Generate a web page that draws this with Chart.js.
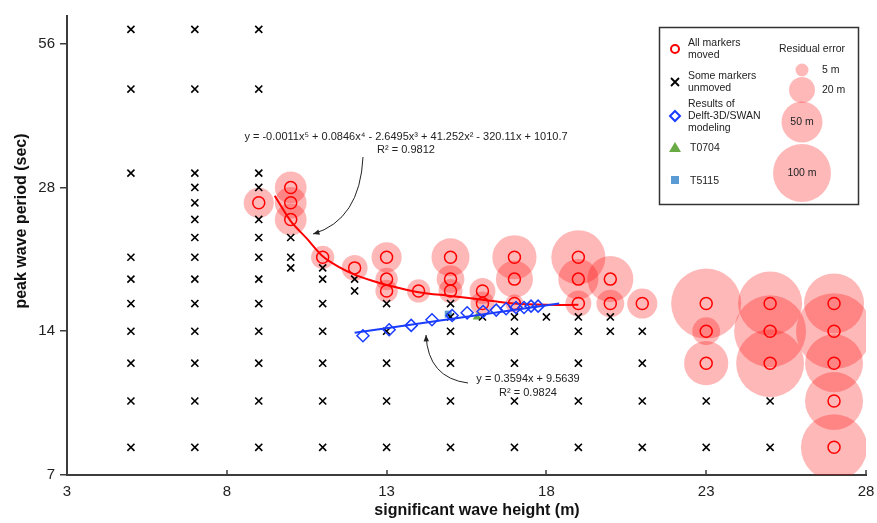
<!DOCTYPE html>
<html>
<head>
<meta charset="utf-8">
<script src="https://cdn.jsdelivr.net/npm/chart.js@4.4.0/dist/chart.umd.min.js"></script>
<style>
  html, body { margin: 0; padding: 0; background: #fff; }
  #wrap { width: 877px; height: 523px; }
</style>
</head>
<body>
<div id="wrap"><canvas id="waveChart" width="877" height="523"></canvas></div>
<script>
// Axis ticks
const xTicks = [3, 8, 13, 18, 23, 28];
const yTicks = [7, 14, 28, 56];

// All markers moved: wave height (m), period (s), residual error (m)
const movedH =   [9, 10, 10, 10, 11, 12, 13, 13, 13, 14, 15, 15, 15, 16, 16, 17, 17, 17, 19, 19, 19, 20, 20, 21, 23, 23, 23, 25, 25, 25, 27, 27, 27, 27, 27];
const movedT =   [26, 28, 26, 24, 20, 19, 20, 18, 17, 17, 20, 18, 17, 17, 16, 20, 18, 16, 20, 18, 16, 18, 16, 16, 16, 14, 12, 16, 14, 12, 16, 14, 12, 10, 8];
const movedErr = [27, 30, 30, 30, 16, 20, 27, 15, 15, 16, 43, 23, 17, 20, 17, 58, 41, 10, 87, 48, 20, 63, 23, 27, 146, 23, 58, 122, 154, 137, 107, 172, 100, 100, 130];

// Some markers unmoved: one column per wave height
const unmovedCols = [5, 7, 9, 10, 11, 12, 13, 15, 16, 17, 18, 19, 20, 21, 23, 25];
const unmovedPeriods = [
    [60, 45, 30, 20, 18, 16, 14, 12, 10, 8],
    [60, 45, 30, 28, 26, 24, 22, 20, 18, 16, 14, 12, 10, 8],
    [60, 45, 30, 28, 24, 22, 20, 18, 16, 14, 12, 10, 8],
    [22, 20, 19],
    [19, 18, 16, 14, 12, 10, 8],
    [18, 17],
    [16, 14, 12, 10, 8],
    [16, 15, 14, 12, 10, 8],
    [15],
    [15, 14, 12, 10, 8],
    [15],
    [15, 14, 12, 10, 8],
    [15, 14],
    [14, 12, 10, 8],
    [10, 8],
    [10, 8]
];

// Delft-3D/SWAN modeling results
const swanH = [12.26, 13.08, 13.77, 14.42, 15.05, 15.52, 16.02, 16.43, 16.74, 17.05, 17.3, 17.52, 17.74];
const swanT = [13.7, 14.1, 14.4, 14.8, 15.1, 15.3, 15.4, 15.5, 15.6, 15.7, 15.7, 15.8, 15.8];

// Trend lines
const polyH = [9.5, 10, 10.5, 11, 11.5, 12, 12.5, 13, 14, 15, 16, 17, 18, 19];
const polyT = [26.9, 23.8, 21.9, 20.1, 19.1, 18.4, 17.9, 17.5, 16.9, 16.6, 16.3, 16.0, 15.9, 15.9];
const linH = [12, 18.4];
const linT = [13.9, 16.0];

// Single stations
const t0704H = [15.83];
const t0704T = [15.0];
const t5115H = [14.93];
const t5115T = [15.2];

// Residual error legend sizes (m)
const legendErr = [5, 20, 50, 100];

const FONT = 'Arial, "Liberation Sans", sans-serif';
Chart.defaults.font.family = FONT;

const rFor = e => 2.9 * Math.sqrt(e);
const pts = (xs, ys) => xs.map((x, i) => ({ x: x, y: ys[i] }));

const crossPts = [];
unmovedCols.forEach((h, i) => unmovedPeriods[i].forEach(t => crossPts.push({ x: h, y: t })));

const bubblePts = movedH.map((h, i) => ({ x: h, y: movedT[i], r: rFor(movedErr[i]) }));

function curvedArrow(ctx, x0, y0, cx, cy, x1, y1) {
    ctx.beginPath(); ctx.moveTo(x0, y0); ctx.quadraticCurveTo(cx, cy, x1, y1); ctx.stroke();
    const a = Math.atan2(y1 - cy, x1 - cx);
    ctx.beginPath();
    ctx.moveTo(x1, y1);
    ctx.lineTo(x1 - 7 * Math.cos(a - 0.4), y1 - 7 * Math.sin(a - 0.4));
    ctx.lineTo(x1 - 7 * Math.cos(a + 0.4), y1 - 7 * Math.sin(a + 0.4));
    ctx.closePath(); ctx.fill();
}

const decorPlugin = {
    id: 'decor',
    afterDraw(chart) {
        const ctx = chart.ctx;
        const xs = chart.scales.x, area = chart.chartArea;
        ctx.save();

        // inward x ticks
        ctx.strokeStyle = '#3c3c3c'; ctx.lineWidth = 1.5;
        xTicks.forEach(v => {
            const px = Math.round(xs.getPixelForValue(v));
            ctx.beginPath(); ctx.moveTo(px, area.bottom); ctx.lineTo(px, area.bottom - 5); ctx.stroke();
        });

        // axis titles
        ctx.fillStyle = '#111';
        ctx.font = 'bold 16px ' + FONT;
        ctx.textAlign = 'center'; ctx.textBaseline = 'middle';
        ctx.fillText('significant wave height (m)', 477, 511);
        ctx.save();
        ctx.translate(22, 221); ctx.rotate(-Math.PI / 2);
        ctx.fillText('peak wave period (sec)', 0, 0);
        ctx.restore();

        // fit equations
        ctx.fillStyle = '#222';
        ctx.font = '11px ' + FONT;
        ctx.fillText('y = -0.0011x\u2075 + 0.0846x\u2074 - 2.6495x\u00b3 + 41.252x\u00b2 - 320.11x + 1010.7', 406, 137);
        ctx.fillText('R\u00b2 = 0.9812', 406, 150);
        ctx.fillText('y = 0.3594x + 9.5639', 528, 379);
        ctx.fillText('R\u00b2 = 0.9824', 528, 393);

        ctx.strokeStyle = '#222'; ctx.lineWidth = 1;
        curvedArrow(ctx, 363, 157, 360, 220, 313, 234);
        curvedArrow(ctx, 468, 383, 428, 378, 426, 335);

        // legend box
        ctx.strokeStyle = '#333'; ctx.lineWidth = 1.5;
        ctx.strokeRect(659.5, 27.5, 199, 177);

        const ix = 675;
        ctx.strokeStyle = '#ff0000'; ctx.lineWidth = 2;
        ctx.beginPath(); ctx.arc(ix, 49, 4, 0, Math.PI * 2); ctx.stroke();
        ctx.strokeStyle = '#000'; ctx.lineWidth = 1.8;
        ctx.beginPath(); ctx.moveTo(ix - 4, 78); ctx.lineTo(ix + 4, 86); ctx.moveTo(ix + 4, 78); ctx.lineTo(ix - 4, 86); ctx.stroke();
        ctx.strokeStyle = '#1a3cff'; ctx.lineWidth = 2;
        ctx.beginPath(); ctx.moveTo(ix, 111); ctx.lineTo(ix + 5, 116); ctx.lineTo(ix, 121); ctx.lineTo(ix - 5, 116); ctx.closePath(); ctx.stroke();
        ctx.fillStyle = '#6aaa45';
        ctx.beginPath(); ctx.moveTo(ix, 142); ctx.lineTo(ix + 6, 152); ctx.lineTo(ix - 6, 152); ctx.closePath(); ctx.fill();
        ctx.fillStyle = '#5b9bd5';
        ctx.fillRect(ix - 4, 176, 8, 8);

        ctx.fillStyle = '#222';
        ctx.font = '10.5px ' + FONT;
        ctx.textAlign = 'left';
        [['All markers', 43], ['moved', 55], ['Some markers', 76], ['unmoved', 88],
         ['Results of', 104], ['Delft-3D/SWAN', 116], ['modeling', 128]].forEach(t => ctx.fillText(t[0], 688, t[1]));
        ctx.fillText('T0704', 690, 148);
        ctx.fillText('T5115', 690, 181);

        ctx.textAlign = 'center';
        ctx.fillText('Residual error', 812, 49);
        const cy = [70, 90, 122, 173];
        ctx.fillStyle = 'rgba(255, 0, 0, 0.28)';
        legendErr.forEach((e, i) => {
            ctx.beginPath(); ctx.arc(802, cy[i], rFor(e), 0, Math.PI * 2); ctx.fill();
        });
        ctx.fillStyle = '#222';
        ctx.textAlign = 'left';
        ctx.fillText(legendErr[0] + ' m', 822, cy[0]);
        ctx.fillText(legendErr[1] + ' m', 822, cy[1]);
        ctx.textAlign = 'center';
        ctx.fillText(legendErr[2] + ' m', 802, cy[2]);
        ctx.fillText(legendErr[3] + ' m', 802, cy[3]);

        ctx.restore();
    }
};

new Chart(document.getElementById('waveChart'), {
    type: 'scatter',
    data: {
        datasets: [
            { type: 'bubble', label: 'Residual error', data: bubblePts, backgroundColor: 'rgba(255, 0, 0, 0.28)', borderWidth: 0, clip: 0, order: 10 },
            { label: 'Some markers unmoved', data: crossPts, pointStyle: 'crossRot', pointRadius: 5, borderColor: '#000', borderWidth: 1.6, order: 6 },
            { label: 'T5115', data: pts(t5115H, t5115T), pointStyle: 'rect', pointRadius: 5, backgroundColor: '#5b9bd5', borderWidth: 0, order: 7 },
            { label: 'T0704', data: pts(t0704H, t0704T), pointStyle: 'triangle', pointRadius: 5, backgroundColor: '#6aaa45', borderWidth: 0, order: 7 },
            { label: 'All markers moved', data: pts(movedH, movedT), pointStyle: 'circle', pointRadius: 6, borderColor: '#ff0000', backgroundColor: 'rgba(0,0,0,0)', borderWidth: 1.5, order: 4 },
            { label: 'poly fit', data: pts(polyH, polyT), showLine: true, pointRadius: 0, borderColor: '#ff0000', borderWidth: 2, tension: 0.3, order: 3 },
            { label: 'linear fit', data: pts(linH, linT), showLine: true, pointRadius: 0, borderColor: '#1a3cff', borderWidth: 2, order: 2 },
            { label: 'Results of Delft-3D/SWAN modeling', data: pts(swanH, swanT), pointStyle: 'rectRot', pointRadius: 6, borderColor: '#1a3cff', backgroundColor: 'rgba(0,0,0,0)', borderWidth: 1.5, order: 1 }
        ]
    },
    options: {
        responsive: false,
        devicePixelRatio: 1,
        animation: false,
        layout: { autoPadding: false, padding: { top: 16, right: 11, left: 0, bottom: 0 } },
        plugins: { legend: { display: false }, tooltip: { enabled: false } },
        scales: {
            x: {
                type: 'linear', min: 3, max: 28,
                afterBuildTicks: s => { s.ticks = xTicks.map(v => ({ value: v })); },
                afterFit: s => { s.height = 48; s.paddingLeft = 0; s.paddingRight = 0; },
                grid: { drawOnChartArea: false, drawTicks: false },
                border: { color: '#3c3c3c', width: 2 },
                ticks: { color: '#222', font: { size: 15 }, padding: 8, maxRotation: 0 }
            },
            y: {
                type: 'logarithmic', min: 7, max: 64,
                afterBuildTicks: s => { s.ticks = yTicks.map(v => ({ value: v })); },
                afterFit: s => { s.width = 67; s.paddingTop = 0; s.paddingBottom = 0; },
                grid: { drawOnChartArea: false, drawTicks: true, tickLength: 7, color: '#3c3c3c', lineWidth: 1.5 },
                border: { color: '#3c3c3c', width: 2 },
                ticks: { color: '#222', font: { size: 15 }, padding: 5, callback: v => String(v) }
            }
        }
    },
    plugins: [decorPlugin]
});
</script>
</body>
</html>
